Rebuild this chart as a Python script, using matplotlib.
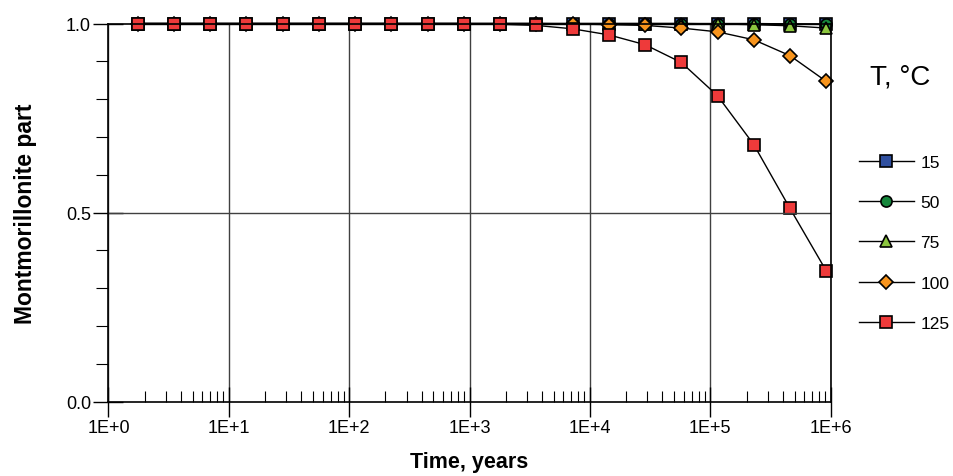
import matplotlib.pyplot as plt
from matplotlib.ticker import LogLocator, MultipleLocator, FixedLocator

plt.rcParams['font.family'] = ['Liberation Sans', 'DejaVu Sans']

# time points, years
time = [1.75, 3.5, 7, 14, 28, 56, 112, 224, 448, 896, 1792, 3584,
        7168, 14336, 28672, 57344, 114688, 229376, 458752, 917504]

# montmorillonite part for each temperature
t15 = [1.0] * 20
t50 = [1.0] * 17 + [1.0, 0.999, 0.998]
t75 = [1.0] * 16 + [0.999, 0.997, 0.994, 0.988]
t100 = [1.0] * 12 + [0.999, 0.997, 0.995, 0.988, 0.978, 0.957, 0.915, 0.847]
t125 = [1.0] * 10 + [0.998, 0.995, 0.986, 0.970, 0.944, 0.897, 0.809, 0.680, 0.511, 0.346]

labels = ['15', '50', '75', '100', '125']
series = [t15, t50, t75, t100, t125]
markers = ['s', 'o', '^', 'D', 's']
colors = ['#2f4f9f', '#16873c', '#8cc63f', '#f7941d', '#ee3a3a']
sizes = [8, 8, 9, 7, 8]

fig = plt.figure(figsize=(9.54, 4.77), dpi=100)
ax = fig.add_axes([0.1137, 0.1558, 0.8708 - 0.1137, 0.9486 - 0.1558])

for y, lab, m, c, s in zip(series, labels, markers, colors, sizes):
    ax.plot(time, y, color='black', lw=1, marker=m, ms=s, mfc=c,
            mec='black', mew=1.2, label=lab, clip_on=False)

ax.set_xscale('log')
ax.set_xlim(1, 1e6)
ax.set_ylim(0, 1)

ax.xaxis.set_minor_locator(LogLocator(base=10, subs=range(2, 10), numticks=20))
ax.set_xticks([10 ** i for i in range(7)])
ax.set_xticklabels(['1E+%d' % i for i in range(7)])
ax.yaxis.set_major_locator(FixedLocator([0, 0.5, 1.0]))
ax.yaxis.set_minor_locator(MultipleLocator(0.1))
ax.set_yticklabels(['0.0', '0.5', '1.0'])

ax.tick_params(axis='x', which='major', direction='inout', length=21, width=1, labelsize=13, pad=2)
ax.tick_params(axis='x', which='minor', direction='in', length=8, width=0.8)
ax.tick_params(axis='y', which='major', direction='inout', length=21, width=1, labelsize=13, pad=2)
ax.tick_params(axis='y', which='minor', direction='out', length=9, width=0.8)

ax.grid(True, which='major', axis='x', color='#404040', lw=1)
ax.axhline(0.5, color='#404040', lw=1)
for sp in ax.spines.values():
    sp.set_linewidth(1.2)

ax.set_xlabel('Time, years', fontsize=15.5, fontweight='bold', labelpad=11)
ax.set_ylabel('Montmorillonite part', fontsize=16.5, fontweight='bold', labelpad=21)

fig.text(0.944, 0.838, 'T, \u00b0C', fontsize=20, ha='center', va='center')
ax.legend(loc='upper left', bbox_to_anchor=(0.9, 0.674), bbox_transform=fig.transFigure,
          frameon=False, fontsize=12.5, handlelength=3.2, labelspacing=1.45,
          handletextpad=0.35, borderaxespad=0, borderpad=0)

fig.savefig('out.png', dpi=100)
